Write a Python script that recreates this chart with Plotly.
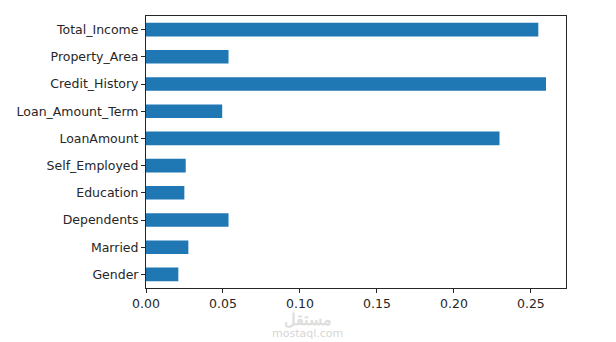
import plotly.graph_objects as go

features = ["Gender", "Married", "Dependents", "Education", "Self_Employed",
            "LoanAmount", "Loan_Amount_Term", "Credit_History", "Property_Area", "Total_Income"]
importance = [0.0210, 0.0275, 0.0536, 0.0249, 0.0258,
              0.2296, 0.0495, 0.2598, 0.0536, 0.2548]
x_ticks = [0.00, 0.05, 0.10, 0.15, 0.20, 0.25]
x_tick_labels = ["0.00", "0.05", "0.10", "0.15", "0.20", "0.25"]

fig = go.Figure(go.Bar(
    x=importance, y=list(range(len(features))), orientation="h",
    width=0.5, marker=dict(color="#1f77b4", line=dict(width=0)),
))

font = dict(family="DejaVu Sans", size=12.5, color="#262626")
fig.update_layout(
    width=616, height=342,
    margin=dict(l=146, r=50, t=16, b=54),
    paper_bgcolor="white", plot_bgcolor="white",
    showlegend=False, font=font,
    xaxis=dict(range=[0, max(importance) * 1.05], tickvals=x_ticks, ticktext=x_tick_labels,
               showgrid=False, zeroline=False, ticks="outside", ticklen=4, tickwidth=1,
               tickcolor="#262626", showline=True, linecolor="#262626", linewidth=1,
               mirror=True, tickfont=font),
    yaxis=dict(range=[-0.5, len(features) - 0.5], tickvals=list(range(len(features))),
               ticktext=features, showgrid=False, zeroline=False, ticks="outside",
               ticklen=4, tickwidth=1, tickcolor="#262626", showline=True,
               linecolor="#262626", linewidth=1, mirror=True, tickfont=font),
    annotations=[
        dict(text="<b>مستقل</b>", x=308, y=319, xref="paper", yref="paper", showarrow=False,
             font=dict(family="Noto Sans", size=16, color="#dedede")),
        dict(text="mostaql.com", x=307, y=333, xref="paper", yref="paper", showarrow=False,
             font=dict(family="DejaVu Sans", size=11, color="#d6d6d6")),
    ],
)
# convert watermark positions from pixels to paper coords
pw, ph = 616 - 146 - 50, 342 - 16 - 54
for a in fig.layout.annotations:
    a.x = (a.x - 146) / pw
    a.y = (342 - 54 - a.y) / ph
    a.yanchor = "middle"

fig.write_html("out.html")
